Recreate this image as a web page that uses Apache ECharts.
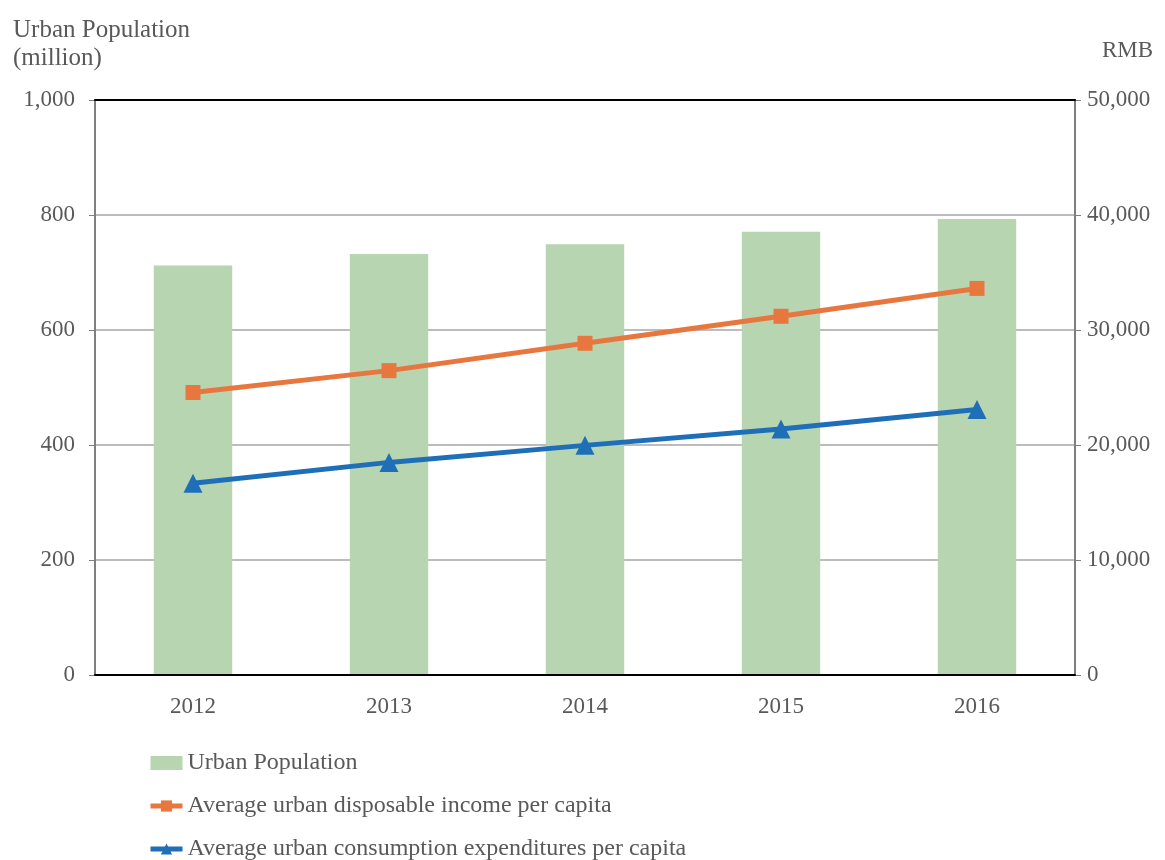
<!DOCTYPE html>
<html>
<head>
<meta charset="utf-8">
<script src="https://cdn.jsdelivr.net/npm/echarts@6/dist/echarts.min.js"></script>
<style>html,body{margin:0;padding:0;background:#fff}#c{width:1165px;height:860px}</style>
</head>
<body>
<div id="c"></div>
<script>
const years = ['2012', '2013', '2014', '2015', '2016'];
const urbanPopulation = [712, 732, 749, 771, 793];
const disposableIncome = [24565, 26467, 28844, 31195, 33616];
const consumptionExpenditure = [16674, 18488, 19968, 21392, 23079];
const leftTicks = [0, 200, 400, 600, 800, 1000];
const rightTicks = [0, 10000, 20000, 30000, 40000, 50000];

const FONT = 'Liberation Serif';
const TXT = '#595959';
const fmt = v => v.toLocaleString('en-US');

const chart = echarts.init(document.getElementById('c'));
chart.setOption({
  animation: false,
  textStyle: { fontFamily: FONT, color: TXT },
  title: [
    { text: 'Urban Population\n(million)', left: 8, top: 11,
      textStyle: { fontFamily: FONT, fontSize: 25, fontWeight: 'normal', color: TXT, lineHeight: 28 } },
    { text: 'RMB', left: 1097, top: 34,
      textStyle: { fontFamily: FONT, fontSize: 23, fontWeight: 'normal', color: TXT } }
  ],
  grid: { left: 95, right: 90, top: 100, bottom: 185 },
  legend: {
    orient: 'vertical', left: 143, top: 746, itemGap: 19, height: 120,
    itemWidth: 32, itemHeight: 14,
    textStyle: { fontFamily: FONT, fontSize: 24, color: TXT },
    data: [
      { name: 'Urban Population', icon: 'rect' },
      { name: 'Average urban disposable income per capita', lineStyle: { width: 5 } },
      { name: 'Average urban consumption expenditures per capita', lineStyle: { width: 5 } }
    ]
  },
  xAxis: [
    { type: 'category', data: years, position: 'bottom', z: 5,
      axisLine: { onZero: false, lineStyle: { color: '#000', width: 2 } },
      axisTick: { show: false },
      axisLabel: { fontFamily: FONT, fontSize: 23, color: TXT, margin: 20 } },
    { type: 'category', data: years, position: 'top', z: 5,
      axisLine: { onZero: false, lineStyle: { color: '#000', width: 2 } },
      axisTick: { show: false }, axisLabel: { show: false } }
  ],
  yAxis: [
    { type: 'value', min: leftTicks[0], max: leftTicks[leftTicks.length - 1], interval: 200, position: 'left',
      axisLine: { show: true, lineStyle: { color: '#7f7f7f', width: 2 } },
      axisTick: { show: true, length: 6, lineStyle: { color: '#7f7f7f' } },
      splitLine: { lineStyle: { color: '#a6a6a6', width: 1.5 } },
      axisLabel: { fontFamily: FONT, fontSize: 23, color: TXT, margin: 20, formatter: fmt } },
    { type: 'value', min: rightTicks[0], max: rightTicks[rightTicks.length - 1], interval: 10000, position: 'right',
      axisLine: { show: true, lineStyle: { color: '#7f7f7f', width: 2 } },
      axisTick: { show: true, length: 6, lineStyle: { color: '#7f7f7f' } },
      splitLine: { show: false },
      axisLabel: { fontFamily: FONT, fontSize: 23, color: TXT, margin: 12, formatter: fmt } }
  ],
  series: [
    { name: 'Urban Population', type: 'bar', data: urbanPopulation, xAxisIndex: 0, yAxisIndex: 0,
      barWidth: '40%', itemStyle: { color: '#b7d5b0' } },
    { name: 'Average urban disposable income per capita', type: 'line', data: disposableIncome,
      xAxisIndex: 0, yAxisIndex: 1, symbol: 'rect', symbolSize: 15,
      lineStyle: { color: '#e8773f', width: 5 }, itemStyle: { color: '#e8773f' } },
    { name: 'Average urban consumption expenditures per capita', type: 'line', data: consumptionExpenditure,
      xAxisIndex: 0, yAxisIndex: 1, symbol: 'triangle', symbolSize: 19,
      lineStyle: { color: '#1f6fb8', width: 5 }, itemStyle: { color: '#1f6fb8' } }
  ]
});
</script>
</body>
</html>
